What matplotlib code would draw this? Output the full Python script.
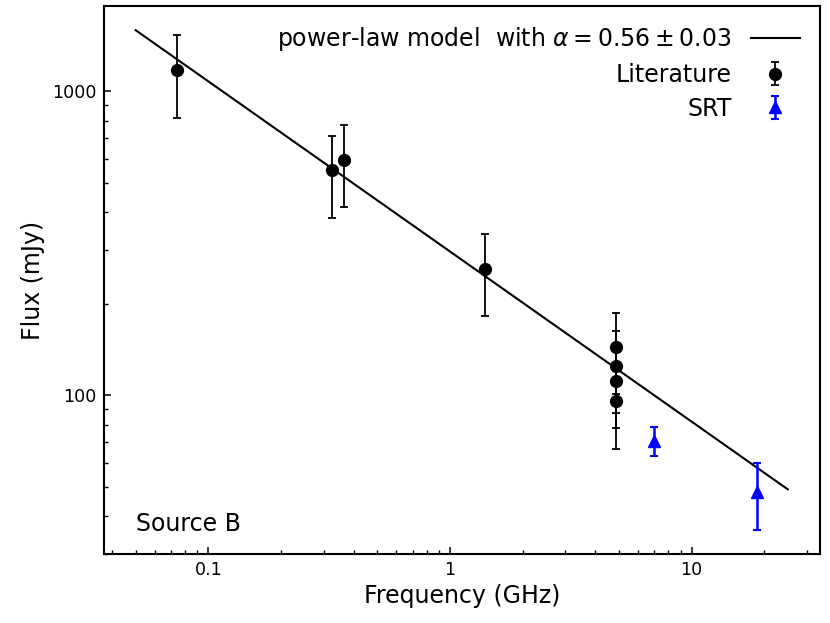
import numpy as np
import matplotlib
matplotlib.use("Agg")
import matplotlib.pyplot as plt
from matplotlib.ticker import FuncFormatter, NullFormatter

# literature flux densities
lit_freq = [0.074, 0.325, 0.365, 1.4, 4.85, 4.85, 4.85, 4.85]
lit_flux = [1178, 549, 596, 260, 143.6, 124.9, 111.2, 95.5]
lit_err = [358, 166, 179, 78, 43, 37.6, 33, 29]

# SRT measurements
srt_freq = [7.0, 18.7]
srt_flux = [70.7, 48.0]
srt_err = [7.8, 12.0]

# power-law model
alpha = 0.56
norm = 297.0
model_range = [0.05, 25]

fig = plt.figure(figsize=(8.3, 6.23), dpi=100)
ax = fig.add_subplot(1, 1, 1)
fig.subplots_adjust(left=0.1247, right=0.988, top=0.9904, bottom=0.1108)

nu = np.logspace(np.log10(model_range[0]), np.log10(model_range[1]), 200)
ax.plot(nu, norm * nu**(-alpha), "-k", lw=1.5,
        label=r"power-law model  with $\alpha = 0.56 \pm 0.03$")
ax.errorbar(lit_freq, lit_flux, yerr=lit_err, fmt="o", color="k", ms=8.5,
            capsize=3, elinewidth=1.3, capthick=1.3, label="Literature")
ax.errorbar(srt_freq, srt_flux, yerr=srt_err, fmt="^", color="b", ms=8.5,
            capsize=3, elinewidth=1.8, capthick=1.5, label="SRT")

ax.set_xscale("log")
ax.set_yscale("log")
ax.set_xlim(0.0368, 34)
ax.set_ylim(30, 1910)

fmt = FuncFormatter(lambda v, p: "%g" % v)
ax.xaxis.set_major_formatter(fmt)
ax.yaxis.set_major_formatter(fmt)
ax.xaxis.set_minor_formatter(NullFormatter())
ax.yaxis.set_minor_formatter(NullFormatter())
ax.tick_params(which="both", direction="in", labelsize=12.6, pad=5)
ax.tick_params(which="major", length=4.7, width=1.1)
ax.tick_params(which="minor", length=2.7, width=1)
for s in ax.spines.values():
    s.set_linewidth(1.5)

ax.set_xlabel("Frequency (GHz)", fontsize=17)
ax.set_ylabel("Flux (mJy)", fontsize=17, labelpad=5)
ax.text(0.0454, 0.0547, "Source B", transform=ax.transAxes, fontsize=17,
        va="center")
ax.legend(loc="upper right", bbox_to_anchor=(1.001, 1.003), frameon=False,
          markerfirst=False, fontsize=17, handlelength=2.1,
          borderaxespad=0.47, labelspacing=0.42)

fig.savefig("out.png", dpi=100)
